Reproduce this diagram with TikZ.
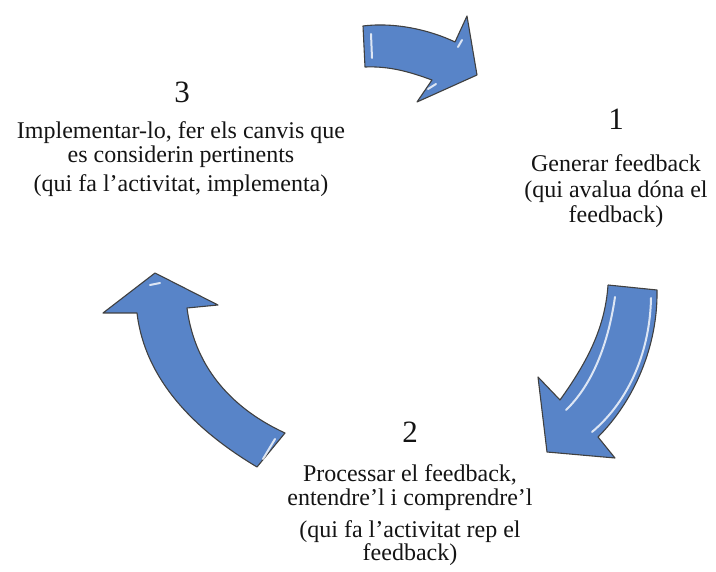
\documentclass[tikz,border=0pt]{standalone}
\usepackage{fontspec}
\setmainfont{Liberation Serif}
\definecolor{arrowblue}{RGB}{88,132,200}
\definecolor{txtgray}{RGB}{20,20,20}

\begin{document}
\begin{tikzpicture}[x=1pt, y=-1pt,
   arrowbody/.style = {fill=arrowblue, draw=black!75, line width=1.1pt, line join=round},
   gloss/.style = {white, opacity=0.8, line width=2pt, line cap=round},
   steplbl/.style = {anchor=base, inner sep=0pt, text=txtgray, font=\fontsize{31}{31}\selectfont},
   txtline/.style = {anchor=base, inner sep=0pt, text=txtgray, font=\fontsize{24}{24}\selectfont}]
\useasboundingbox (0,0) rectangle (716,572);

% the three curved arrows
\draw[arrowbody] (363,26) .. controls (395,22) and (430,30) .. (455,42) -- (467,16) -- (477,75)
   -- (417,102) -- (432,80) .. controls (410,72) and (390,66) .. (365,67) -- cycle;
\draw[arrowbody] (608,285) -- (657,290) .. controls (658,345) and (635,400) .. (598,437)
   -- (615,458) -- (547,452) -- (538,377) -- (560,400) .. controls (585,365) and (605,330) .. (608,285);
\draw[arrowbody] (155,273) -- (218,305) -- (187,308) .. controls (195,370) and (235,410) .. (285,433)
   -- (257,467) .. controls (195,430) and (145,380) .. (137,313) -- (103,313) -- cycle;

% highlights
\draw[gloss] (371,34) -- (372,58);
\draw[gloss] (458,47) -- (462,40);
\draw[gloss] (436,84) -- (428,89);
\draw[gloss] (615,297) .. controls (608,345) and (592,385) .. (566,410);
\draw[gloss] (651,298) .. controls (650,350) and (630,400) .. (592,432);
\draw[gloss] (275,439) -- (263,459);
\draw[gloss] (150,285) -- (160,283);

% step 1
\node[steplbl] (n1) at (616,130) {1};
\foreach \txt/\y [count=\i] in {{Generar feedback}/172, {(qui avalua dóna el}/198, {feedback)}/223}
   \node[txtline] (t1-\i) at (616,\y) {\txt};

% step 2
\node[steplbl] (n2) at (410,443) {2};
\foreach \txt/\y [count=\i] in {{Processar el feedback,}/482, {entendre’l i comprendre’l}/505,
   {(qui fa l’activitat rep el}/537, {feedback)}/560}
   \node[txtline] (t2-\i) at (410,\y) {\txt};

% step 3
\node[steplbl] (n3) at (182,103) {3};
\foreach \txt/\y [count=\i] in {{Implementar-lo, fer els canvis que}/139, {es considerin pertinents}/163,
   {(qui fa l’activitat, implementa)}/192}
   \node[txtline] (t3-\i) at (181,\y) {\txt};
\end{tikzpicture}
\end{document}
